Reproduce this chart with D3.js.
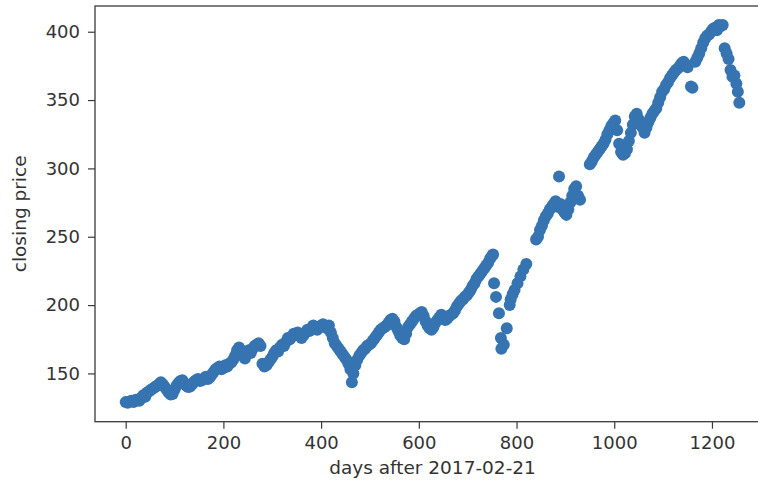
<!DOCTYPE html>
<html>
<head>
<meta charset="utf-8">
<script src="https://cdn.jsdelivr.net/npm/d3@7"></script>
<style>
  body { margin: 0; background: #fff; }
  text { font-family: "DejaVu Sans", sans-serif; fill: #333; }
</style>
</head>
<body>
<div id="chart"></div>
<script>
// trading days after 2017-02-21 and closing price
const days = [
  0, 4, 8, 12, 16, 20, 24, 28, 32, 36, 40, 44, 48, 52, 56, 60, 64, 68, 72, 76,
  80, 84, 88, 92, 96, 100, 104, 108, 112, 116, 120, 124, 128, 132, 136, 140, 144, 148, 152, 156,
  160, 164, 168, 172, 176, 180, 184, 188, 192, 196, 200, 204, 208, 212, 216, 220, 224, 228, 232, 236,
  240, 244, 248, 252, 256, 260, 264, 268, 272, 276, 280, 284, 288, 292, 296, 300, 304, 308, 312, 316,
  320, 324, 328, 332, 336, 340, 344, 348, 352, 356, 360, 364, 368, 372, 376, 380, 384, 388, 392, 396,
  400, 404, 408, 412, 416, 420, 424, 428, 432, 436, 440, 444, 448, 452, 456, 460, 463, 466, 470, 474,
  478, 482, 486, 490, 494, 498, 502, 506, 510, 514, 518, 522, 526, 530, 534, 538, 542, 546, 550, 554,
  558, 562, 566, 570, 574, 578, 582, 586, 590, 594, 598, 602, 606, 610, 614, 618, 622, 626, 630, 634,
  638, 642, 646, 650, 654, 658, 662, 666, 670, 674, 678, 682, 686, 690, 694, 698, 702, 706, 710, 714,
  718, 722, 726, 730, 734, 738, 742, 746, 750, 752, 754, 758, 764, 768, 769, 774, 780, 786, 788, 792,
  796, 802, 808, 814, 820, 840, 844, 848, 852, 856, 860, 864, 868, 872, 876, 880, 884, 887, 890, 894,
  898, 902, 906, 910, 914, 918, 922, 926, 930, 950, 954, 958, 962, 966, 970, 974, 978, 982, 986, 990,
  994, 998, 1002, 1006, 1010, 1014, 1018, 1022, 1026, 1030, 1034, 1038, 1042, 1046, 1050, 1054, 1058, 1062, 1066, 1070,
  1074, 1078, 1082, 1086, 1090, 1094, 1098, 1102, 1106, 1110, 1114, 1118, 1122, 1126, 1130, 1134, 1138, 1142, 1146, 1150,
  1157, 1160, 1166, 1170, 1174, 1178, 1182, 1186, 1190, 1194, 1198, 1202, 1206, 1210, 1214, 1218, 1222, 1226, 1230, 1234,
  1238, 1242, 1246, 1250, 1253, 1256
];
const closes = [
  129, 128.5, 129.5, 130, 129, 130.5, 131, 130, 132, 134, 133, 136, 137, 138, 139, 140, 141, 142, 143.5, 142,
  140, 138, 136, 134.5, 135, 138, 141, 143, 144.5, 145, 143, 141, 140, 140.5, 142, 144, 145, 146, 144.5, 145,
  146, 147.5, 146, 147, 149, 151, 153, 154, 155, 153, 154, 156, 155, 157, 158, 160, 163, 167, 169, 167,
  163, 161, 164, 167, 165, 168, 170, 171, 172, 170, 157, 155, 156, 158, 160, 162, 165, 167, 166, 169,
  171, 170, 173, 176, 175, 177, 179, 178, 180, 178, 176, 178, 180, 182, 181, 183, 185, 184, 182, 184,
  185, 186, 184, 183, 185, 180, 176, 172, 170, 168, 166, 164, 162, 160, 157, 153, 143.5, 150, 156, 160,
  163, 165, 167, 168, 170, 171, 172, 174, 176, 178, 180, 182, 183, 184, 185, 187, 189, 190, 188, 184,
  181, 178, 176, 175, 179, 184, 186, 188, 190, 192, 193, 194, 195, 192, 188, 185, 183, 182, 184, 187,
  189, 191, 193, 191, 189, 190, 192, 193, 194, 196, 199, 201, 203, 204, 206, 207, 209, 211, 214, 216,
  219, 221, 223, 225, 227, 229, 231, 234, 236, 237, 216, 206, 194, 176, 168, 171, 183, 200, 204, 208,
  211, 216, 221, 226, 230, 248, 250, 255, 258, 262, 265, 267, 270, 272, 274, 276, 272, 294, 274, 270,
  268, 266, 270, 275, 280, 285, 287, 280, 277, 303, 305, 308, 310, 312, 314, 316, 318, 321, 325, 328,
  331, 333, 335, 328, 318, 312, 310, 311, 314, 320, 326, 332, 338, 340, 336, 333, 330, 326, 330, 334,
  337, 340, 342, 344, 348, 352, 356, 358, 361, 363, 366, 368, 370, 372, 373, 375, 377, 378, 376, 374,
  360, 359, 378, 381, 384, 388, 392, 395, 397, 398, 400, 402, 403, 401, 405, 404, 405, 388, 384, 380,
  372, 367, 368, 362, 356, 348
];
const xTicks = [0, 200, 400, 600, 800, 1000, 1200];
const yTicks = [150, 200, 250, 300, 350, 400];
const xLabel = "days after 2017-02-21";
const yLabel = "closing price";

const W = 758, H = 485;
const plot = { left: 95, right: 770, top: 6, bottom: 421.7 };

// matplotlib style 5% margins around the data
const xPad = (d3.max(days) - d3.min(days)) * 0.05;
const yPad = (d3.max(closes) - d3.min(closes)) * 0.05;

const x = d3.scaleLinear()
  .domain([d3.min(days) - xPad, d3.max(days) + xPad])
  .range([plot.left, plot.right]);
const y = d3.scaleLinear()
  .domain([d3.min(closes) - yPad, d3.max(closes) + yPad])
  .range([plot.bottom, plot.top]);

const svg = d3.select("#chart").append("svg")
  .attr("width", W)
  .attr("height", H);

// dots
svg.append("g")
  .selectAll("circle")
  .data(days.map((d, i) => [d, closes[i]]))
  .join("circle")
  .attr("cx", d => x(d[0]))
  .attr("cy", d => y(d[1]))
  .attr("r", 6)
  .attr("fill", "#3674b1");

// frame
svg.append("rect")
  .attr("x", plot.left)
  .attr("y", plot.top)
  .attr("width", plot.right - plot.left)
  .attr("height", plot.bottom - plot.top)
  .attr("fill", "none")
  .attr("stroke", "#3a3a3a")
  .attr("stroke-width", 1.3);

const xAxis = svg.append("g")
  .attr("transform", `translate(0,${plot.bottom})`)
  .call(d3.axisBottom(x).tickValues(xTicks).tickFormat(d3.format("d")).tickSize(7).tickPadding(8));
const yAxis = svg.append("g")
  .attr("transform", `translate(${plot.left},0)`)
  .call(d3.axisLeft(y).tickValues(yTicks).tickFormat(d3.format("d")).tickSize(7).tickPadding(8));

[xAxis, yAxis].forEach(g => {
  g.select(".domain").remove();
  g.selectAll("line").attr("stroke", "#3a3a3a").attr("stroke-width", 1.2);
  g.selectAll("text")
    .attr("fill", "#333")
    .style("font-family", "'DejaVu Sans', sans-serif")
    .style("font-size", "18px");
});

svg.append("text")
  .attr("x", (plot.left + plot.right) / 2)
  .attr("y", 474)
  .attr("text-anchor", "middle")
  .style("font-size", "18.5px")
  .text(xLabel);

svg.append("text")
  .attr("transform", `translate(26,${(plot.top + plot.bottom) / 2}) rotate(-90)`)
  .attr("text-anchor", "middle")
  .style("font-size", "18.5px")
  .text(yLabel);
</script>
</body>
</html>
